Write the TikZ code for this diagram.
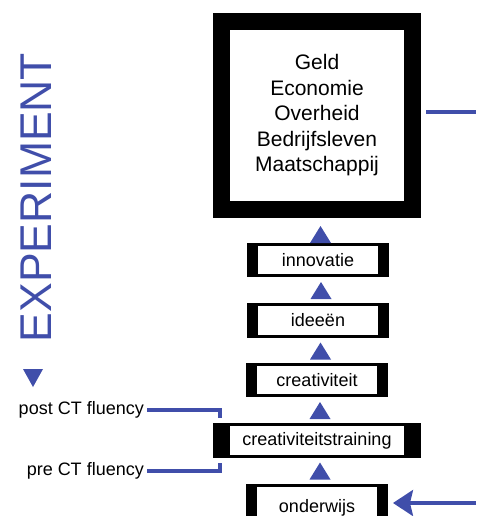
\documentclass[tikz,border=0pt]{standalone}
\usepackage{fontspec}
\setmainfont{Liberation Sans}
\usetikzlibrary{calc,arrows.meta}
\definecolor{cblue}{RGB}{64,78,170}
\begin{document}
\begin{tikzpicture}[x=1pt,y=-1pt,
  bigbox/.style={draw=black,line width=17pt,fill=white,minimum width=191pt,minimum height=188pt,
    align=center,font=\fontsize{21}{25.5}\selectfont,inner sep=0pt},
  stagebox/.style={draw=black,line width=3pt,fill=white,minimum height=31pt,inner sep=0pt,
    font=\fontsize{18}{21}\selectfont},
  lbl/.style={inner sep=0pt,font=\fontsize{18}{21}\selectfont,anchor=east},
  conn/.style={draw=cblue,line width=3.2pt},
  tri/.style={fill=cblue}
]
\useasboundingbox (0,0) rectangle (476,516);

\node[bigbox] (big) at (317,115.5) {Geld\\Economie\\Overheid\\Bedrijfsleven\\Maatschappij};

\node[stagebox,minimum width=139pt] (inn) at (318,260) {innovatie};
\node[stagebox,minimum width=139pt,minimum height=32pt] (ide) at (318,320.5) {idee\"en};
\node[stagebox,minimum width=139pt] (cre) at (317,380) {creativiteit};
\node[stagebox,minimum width=205pt,minimum height=32pt] (trn) at (317,440.5) {creativiteitstraining};
\node[stagebox,minimum width=139pt,minimum height=50pt] (ond) at (317,510.5) {\raisebox{9pt}{onderwijs}};

% thick side bars
\foreach \n/\w in {inn/11,ide/11,cre/11,ond/11,trn/17}{
  \fill[black] (\n.north west) rectangle ([xshift=\w pt]\n.south west);
  \fill[black] (\n.north east) rectangle ([xshift=-\w pt]\n.south east);
}

% triangles between stages
\foreach \lo/\up/\dy in {inn/big/4,ide/inn/0.5,cre/ide/0.5,trn/cre/0.5,ond/trn/0}{
  \coordinate (m) at ($(\lo.north)!0.5!(\up.south)+(3,\dy)$);
  \fill[tri] ($(m)+(-10.5,8.5)$) -- ($(m)+(10.5,8.5)$) -- ($(m)+(0,-8.5)$) -- cycle;
}

% vertical label and triangle
\node[rotate=90,inner sep=0pt,text=cblue,font=\fontsize{44.5}{50}\selectfont,anchor=base] (exp) at (51,197.5) {EXPERIMENT};
\coordinate (dt) at (33,378);
\fill[tri] ($(dt)+(-10,-9)$) -- ($(dt)+(10,-9)$) -- ($(dt)+(0,9)$) -- cycle;

% outgoing line from big box
\coordinate (outR) at (476,112);
\draw[conn,shorten <=5pt] (big.east |- outR) -- (outR);

% incoming arrow to onderwijs
\coordinate (inR) at (476,503);
\draw[conn,-{Stealth[length=20pt,width=26pt,inset=3pt]},shorten >=5pt] (inR) -- (ond.east |- inR);

% measurement labels
\node[lbl] (post) at (144,410) {post CT fluency};
\node[lbl] (pre) at (144,471) {pre CT fluency};
\coordinate (pc) at ($(trn.north west)+(7,-5)$);
\coordinate (qc) at ($(trn.south west)+(7,5)$);
\draw[conn,line cap=butt] ([xshift=3pt]post.east) -| (pc);
\draw[conn,line cap=butt] ([xshift=3pt]pre.east) -| (qc);
\end{tikzpicture}
\end{document}
